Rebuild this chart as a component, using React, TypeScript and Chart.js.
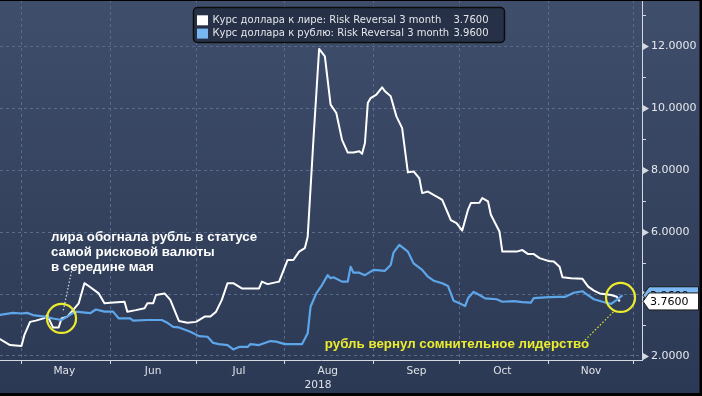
import React, { useEffect, useRef } from 'react';
import { Chart, registerables } from 'chart.js';

Chart.register(...registerables);

// x values are days counted from 1 Apr 2018
const monthNames = ['May', 'Jun', 'Jul', 'Aug', 'Sep', 'Oct', 'Nov'];
const monthStarts = [30, 61, 91, 122, 153, 183, 214, 244];
const yearLabel = '2018';
const yearLabelDay = 133.6;
const yTickValues = [2, 3, 4, 5, 6, 7, 8, 9, 10, 11, 12, 13];

const seriesNames = [
  'Курс доллара к лире: Risk Reversal 3 month',
  'Курс доллара к рублю: Risk Reversal 3 month',
];

const liraDays = [
  22, 26, 30, 31, 33, 35, 38, 39, 41, 43, 44, 46, 48, 50, 52, 53, 57, 59, 61, 66,
  67, 70, 73, 74, 76, 77, 80, 82, 85, 88, 91, 94, 96, 98, 100, 102, 104, 107, 113, 114,
  116, 120, 123, 125, 127, 129, 130, 132, 134, 136, 138, 140, 142, 144, 146, 148, 149, 150, 151, 152,
  154, 156, 157, 159, 161, 163, 165, 167, 169, 170, 172, 174, 176, 177, 179, 180, 182, 184, 186, 187,
  190, 191, 193, 194, 197, 198, 203, 205, 207, 209, 211, 214, 216, 218, 219, 222, 226, 228, 230, 232,
  236, 238, 239,
];
const liraValues = [
  2.57, 2.35, 2.32, 2.67, 3.10, 3.14, 3.22, 3.32, 2.92, 2.92, 3.21, 3.27, 3.48, 3.70, 4.35, 4.29, 4.02, 3.70, 3.72, 3.75,
  3.43, 3.48, 3.54, 3.70, 3.70, 3.97, 4.02, 3.81, 3.13, 3.07, 3.10, 3.27, 3.27, 3.43, 3.81, 4.35, 4.35, 4.18, 4.18, 4.40,
  4.32, 4.40, 5.10, 5.10, 5.37, 5.48, 5.85, 8.98, 11.92, 11.68, 10.12, 9.85, 8.98, 8.57, 8.57, 8.61, 8.53, 8.88, 10.17, 10.33,
  10.44, 10.68, 10.55, 10.39, 9.74, 9.36, 7.93, 7.96, 7.74, 7.26, 7.31, 7.20, 7.10, 7.04, 6.61, 6.39, 6.29, 6.05, 6.72, 6.94,
  6.95, 7.10, 6.99, 6.56, 6.02, 5.37, 5.37, 5.42, 5.29, 5.29, 5.16, 5.07, 5.05, 4.88, 4.54, 4.51, 4.49, 4.24, 4.11, 4.02,
  3.97, 3.91, 3.76,
];

const rubleDays = [
  22, 27, 30, 32, 34, 38, 41, 44, 46, 48, 49, 54, 56, 59, 62, 64, 68, 69, 74, 79,
  81, 83, 85, 89, 92, 95, 97, 99, 102, 104, 106, 109, 110, 113, 117, 119, 122, 128, 130, 131,
  133, 135, 137, 138, 139, 142, 144, 145, 146, 148, 150, 153, 157, 159, 160, 162, 165, 167, 170, 172,
  174, 177, 179, 181, 183, 185, 186, 188, 190, 192, 196, 198, 202, 205, 208, 209, 213, 217, 220, 223,
  226, 227, 230, 233, 236, 238, 240,
];
const rubleValues = [
  3.32, 3.39, 3.37, 3.39, 3.32, 3.27, 3.21, 3.16, 3.27, 3.39, 3.43, 3.38, 3.50, 3.43, 3.43, 3.21, 3.21, 3.14, 3.16, 3.16,
  3.07, 2.94, 2.92, 2.78, 2.64, 2.62, 2.42, 2.38, 2.35, 2.21, 2.29, 2.29, 2.38, 2.35, 2.48, 2.46, 2.38, 2.38, 2.73, 3.59,
  4.02, 4.29, 4.61, 4.51, 4.54, 4.40, 4.40, 4.88, 4.69, 4.69, 4.61, 4.78, 4.75, 4.94, 5.34, 5.59, 5.37, 4.99, 4.78, 4.56,
  4.43, 4.35, 4.26, 3.78, 3.70, 3.61, 3.86, 4.07, 3.97, 3.86, 3.83, 3.75, 3.77, 3.74, 3.72, 3.87, 3.89, 3.91, 3.91, 4.04,
  4.09, 4.02, 3.83, 3.75, 3.68, 3.81, 3.96,
];

// annotations (data coordinates: [day, value])
const note1Lines = ['лира обогнала рубль в статусе', 'самой рисковой валюты', 'в середине мая'];
const note1Anchor = [40.3, 5.84];
const note1Pointer = [[47.5, 4.74], [44.5, 3.42]];
const circle1 = [44, 3.21];
const note2Text = 'рубль вернул сомнительное лидерство';
const note2Anchor = [136.0, 2.38];
const note2Pointer = [[226.9, 2.51], [237.1, 3.45]];
const circle2 = [239.3, 3.89];

const WHITE = '#ffffff';
const BLUE = '#5ea6ea';
const YELLOW = '#ecec2e';
const GRID = '#586b8b';
const AXIS = '#d4d8e0';

const monthMids = monthStarts.slice(0, monthNames.length).map((d) => d + 15);

const overlayPlugin = {
  id: 'overlay',
  afterDatasetsDraw(chart: any) {
    const { ctx, scales } = chart;
    const x = scales.x;
    const y = scales.y;
    const px = (p: number[]) => [x.getPixelForValue(p[0]), y.getPixelForValue(p[1])];
    ctx.save();
    // circles
    ctx.strokeStyle = YELLOW;
    ctx.lineWidth = 2.2;
    for (const c of [circle1, circle2]) {
      const [cx, cy] = px(c);
      ctx.beginPath();
      ctx.arc(cx, cy, 14.5, 0, Math.PI * 2);
      ctx.stroke();
    }
    // pointers
    ctx.lineWidth = 1.2;
    ctx.setLineDash([1.5, 2]);
    ctx.strokeStyle = '#d8d8d8';
    let [a, b] = [px(note1Pointer[0]), px(note1Pointer[1])];
    ctx.beginPath();
    ctx.moveTo(a[0], a[1]);
    ctx.lineTo(b[0], b[1]);
    ctx.stroke();
    ctx.strokeStyle = YELLOW;
    [a, b] = [px(note2Pointer[0]), px(note2Pointer[1])];
    ctx.beginPath();
    ctx.moveTo(a[0], a[1]);
    ctx.lineTo(b[0], b[1]);
    ctx.stroke();
    ctx.setLineDash([]);
    // texts
    ctx.font = 'bold 13.3px "Liberation Sans", Arial, sans-serif';
    ctx.textBaseline = 'middle';
    ctx.textAlign = 'left';
    ctx.fillStyle = WHITE;
    const t1 = px(note1Anchor);
    note1Lines.forEach((line, i) => ctx.fillText(line, t1[0], t1[1] + i * 15));
    ctx.fillStyle = YELLOW;
    const t2 = px(note2Anchor);
    ctx.fillText(note2Text, t2[0], t2[1]);
    ctx.restore();
  },
  afterDraw(chart: any) {
    const { ctx, scales, width, height, chartArea } = chart;
    const y = scales.y;
    ctx.save();
    // right axis line (solid)
    const axisX = y.left;
    ctx.strokeStyle = AXIS;
    ctx.lineWidth = 1;
    ctx.beginPath();
    ctx.moveTo(Math.round(axisX) + 0.5, chartArea.top);
    ctx.lineTo(Math.round(axisX) + 0.5, chartArea.bottom + 0.5);
    ctx.stroke();
    // y axis markers
    ctx.fillStyle = AXIS;
    for (const v of yTickValues) {
      const py = Math.round(y.getPixelForValue(v)) + 0.5;
      if (v % 2 === 0) {
        ctx.beginPath();
        ctx.moveTo(axisX + 1, py - 3.5);
        ctx.lineTo(axisX + 7, py);
        ctx.lineTo(axisX + 1, py + 3.5);
        ctx.closePath();
        ctx.fill();
      } else {
        ctx.beginPath();
        ctx.moveTo(axisX, py);
        ctx.lineTo(axisX + 4, py);
        ctx.stroke();
      }
    }
    // last value boxes
    const lastLira = liraValues[liraValues.length - 1];
    const lastRuble = rubleValues[rubleValues.length - 1];
    const drawBox = (v: number, fill: string) => {
      const cy = y.getPixelForValue(v);
      const h = 8.5;
      ctx.beginPath();
      ctx.moveTo(axisX + 1, cy);
      ctx.lineTo(axisX + 7, cy - h);
      ctx.lineTo(width - 3.5, cy - h);
      ctx.lineTo(width - 3.5, cy + h);
      ctx.lineTo(axisX + 7, cy + h);
      ctx.closePath();
      ctx.fillStyle = fill;
      ctx.fill();
      ctx.strokeStyle = '#1a1a1a';
      ctx.lineWidth = 1;
      ctx.stroke();
      ctx.fillStyle = '#000000';
      ctx.font = '11px "DejaVu Sans", sans-serif';
      ctx.textBaseline = 'middle';
      ctx.textAlign = 'left';
      ctx.fillText(v.toFixed(4), axisX + 8, cy + 0.5);
    };
    drawBox(lastRuble, '#7cb9f2');
    drawBox(lastLira, '#ffffff');

    // legend
    const lx = 193.5, ly = 7.5, lw = 311, lh = 35;
    ctx.beginPath();
    (ctx as any).roundRect(lx, ly, lw, lh, 4);
    ctx.fillStyle = 'rgba(36,46,68,0.9)';
    ctx.fill();
    ctx.strokeStyle = '#0c0c0c';
    ctx.lineWidth = 1.5;
    ctx.stroke();
    const rows = [
      { name: seriesNames[0], color: WHITE, value: lastLira, cy: 20.3 },
      { name: seriesNames[1], color: '#78b6f0', value: lastRuble, cy: 33.6 },
    ];
    ctx.font = '10px "DejaVu Sans", sans-serif';
    ctx.textBaseline = 'middle';
    for (const r of rows) {
      ctx.fillStyle = r.color;
      ctx.fillRect(197, r.cy - 5, 11, 10);
      ctx.fillStyle = '#e4e6ea';
      ctx.textAlign = 'left';
      ctx.fillText(r.name, 212.5, r.cy);
      ctx.textAlign = 'right';
      ctx.fillText(r.value.toFixed(4), 488.5, r.cy);
    }

    // frame
    ctx.fillStyle = '#000000';
    ctx.fillRect(0, 0, width, 1);
    ctx.fillRect(width - 2.5, 0, 2.5, height);
    ctx.fillRect(0, height - 3, width, 3);
    ctx.restore();
  },
};

export default function App() {
  const canvasRef = useRef<HTMLCanvasElement | null>(null);

  useEffect(() => {
    document.body.style.margin = '0';
    const canvas = canvasRef.current;
    if (!canvas) return;
    const chart = new Chart(canvas, {
      type: 'line',
      data: {
        datasets: [
          {
            label: seriesNames[1],
            data: rubleDays.map((d, i) => ({ x: d, y: rubleValues[i] })),
            borderColor: BLUE,
            borderWidth: 2.2,
            pointRadius: 0,
            tension: 0,
            borderJoinStyle: 'round',
          },
          {
            label: seriesNames[0],
            data: liraDays.map((d, i) => ({ x: d, y: liraValues[i] })),
            borderColor: WHITE,
            borderWidth: 2,
            pointRadius: 0,
            tension: 0,
            borderJoinStyle: 'round',
          },
        ],
      },
      options: {
        animation: false,
        responsive: false,
        devicePixelRatio: 1,
        layout: { padding: 0, autoPadding: false } as any,
        plugins: {
          legend: { display: false },
          tooltip: { enabled: false },
        },
        scales: {
          x: {
            type: 'linear',
            min: 22.5,
            max: 246.8,
            afterBuildTicks: (scale: any) => {
              const vals = [...monthStarts, ...monthMids, yearLabelDay].sort((p, q) => p - q);
              scale.ticks = vals.map((v) => ({ value: v }));
            },
            afterFit: (scale: any) => {
              scale.height = 36;
              scale.paddingLeft = 0;
              scale.paddingRight = 0;
            },
            ticks: {
              autoSkip: false,
              maxRotation: 0,
              minRotation: 0,
              padding: 0,
              color: '#dfe1e6',
              font: { family: '"DejaVu Sans", sans-serif', size: 10.6, lineHeight: 1.35 },
              callback: (value: any) => {
                const mi = monthMids.indexOf(value);
                if (mi >= 0) return monthNames[mi];
                if (value === yearLabelDay) return ['', yearLabel];
                return '';
              },
            },
            grid: {
              color: (c: any) => (monthStarts.includes(c.tick?.value) ? GRID : 'rgba(0,0,0,0)'),
              tickColor: (c: any) => (monthStarts.includes(c.tick?.value) ? AXIS : 'rgba(0,0,0,0)'),
              tickLength: 4,
              lineWidth: 1,
            },
            border: { color: AXIS, width: 1, dash: [3, 3] },
          },
          y: {
            type: 'linear',
            position: 'right',
            min: 1.868,
            max: 13.5,
            afterBuildTicks: (scale: any) => {
              scale.ticks = yTickValues.map((v) => ({ value: v }));
            },
            afterFit: (scale: any) => {
              scale.width = 60;
              scale.paddingTop = 0;
              scale.paddingBottom = 0;
            },
            ticks: {
              autoSkip: false,
              padding: 2,
              color: '#e6e8ec',
              font: { family: '"DejaVu Sans", sans-serif', size: 11 },
              callback: (value: any) => (value % 2 === 0 ? Number(value).toFixed(4) : ''),
            },
            grid: {
              color: (c: any) => (c.tick && c.tick.value % 2 === 0 ? GRID : 'rgba(0,0,0,0)'),
              tickColor: 'rgba(0,0,0,0)',
              tickLength: 7,
              lineWidth: 1,
            },
            border: { display: false, dash: [3, 3] },
          },
        },
      },
      plugins: [overlayPlugin],
    } as any);
    return () => chart.destroy();
  }, []);

  return (
    <div
      style={{
        width: 702,
        height: 396,
        position: 'relative',
        background: 'linear-gradient(180deg, #3f4e6b 0%, #34425e 55%, #2b3955 100%)',
      }}
    >
      <canvas ref={canvasRef} width={702} height={396} style={{ display: 'block', width: 702, height: 396 }} />
    </div>
  );
}
